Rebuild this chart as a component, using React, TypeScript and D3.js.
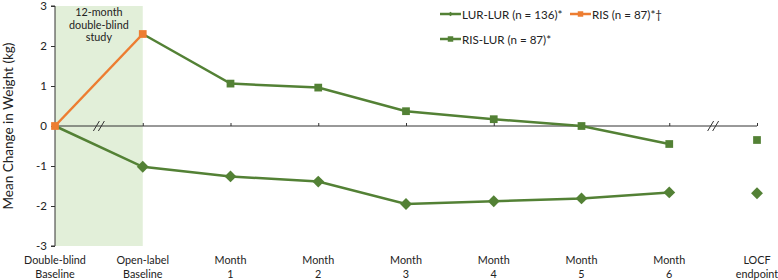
import React, { useEffect, useRef } from 'react';
import * as d3 from 'd3';

const categories = ['DB', 'OL', 'M1', 'M2', 'M3', 'M4', 'M5', 'M6', 'LOCF'];
const catLabels = [
  ['Double-blind', 'Baseline'], ['Open-label', 'Baseline'], ['Month', '1'], ['Month', '2'],
  ['Month', '3'], ['Month', '4'], ['Month', '5'], ['Month', '6'], ['LOCF', 'endpoint'],
];
const yTicks = [-3, -2, -1, 0, 1, 2, 3];

// LUR-LUR: DB baseline .. month 6 connected, LOCF separate
const lurLur = [0, -1.02, -1.26, -1.39, -1.95, -1.88, -1.81, -1.66];
const lurLurLocf = -1.68;
// RIS-LUR: open-label baseline .. month 6, LOCF separate
const risLur = [2.3, 1.06, 0.96, 0.37, 0.17, 0, -0.45];
const risLurLocf = -0.35;
// RIS during double-blind
const ris = [0, 2.3];

const C = { green: '#538135', orange: '#ed7d31', shade: '#e2efd9', axis: '#333', text: '#222' };
const FONT = 'Lato, "Open Sans", sans-serif';
const FS = { label: 10.8, tick: 11.5, legend: 11.6, title: 13.5 };

export default function App() {
  const ref = useRef<SVGSVGElement>(null);
  useEffect(() => {
    const svg = d3.select(ref.current);
    svg.selectAll('*').remove();
    const x = d3.scalePoint<string>().domain(categories).range([55, 757]);
    const y = d3.scaleLinear().domain([-3, 3]).range([246, 6]);
    const step = x.step();

    // shaded double-blind region
    svg.append('rect').attr('x', x('DB')!).attr('y', y(3)).attr('width', x('OL')! - x('DB')!)
      .attr('height', y(-3) - y(3)).attr('fill', C.shade);
    const shadeText = ['12-month', 'double-blind', 'study'];
    shadeText.forEach((t, i) => {
      svg.append('text').text(t).attr('x', (x('DB')! + x('OL')!) / 2).attr('y', 16 + i * 12.5)
        .attr('text-anchor', 'middle').attr('font-size', FS.label).attr('font-family', FONT).attr('fill', C.text);
    });

    // y axis
    const ya = svg.append('g').attr('transform', `translate(${x('DB')},0)`)
      .call(d3.axisLeft(y).tickValues(yTicks).tickSize(4).tickFormat(d => String(d)));
    ya.select('.domain').attr('stroke', C.axis).attr('d', `M-4,${y(3)}H0V${y(-3)}H-4`);
    ya.selectAll('line').attr('stroke', C.axis);
    ya.selectAll('text').attr('font-size', FS.tick).attr('font-family', FONT).attr('fill', C.text).attr('x', -8);

    // zero axis with upward ticks
    const xa = svg.append('g').attr('transform', `translate(0,${y(0)})`)
      .call(d3.axisTop(x).tickSize(3).tickFormat(() => ''));
    xa.select('.domain').attr('stroke', C.axis).attr('d', `M${x('DB')},0H${x('LOCF')}`);
    xa.selectAll('line').attr('stroke', C.axis);

    // break marks
    [x('DB')! + step / 2, x('M6')! + step / 2].forEach(bx => {
      [-2.5, 2.5].forEach(dx => {
        svg.append('line').attr('x1', bx + dx - 3).attr('y1', y(0) + 5).attr('x2', bx + dx + 3).attr('y2', y(0) - 5)
          .attr('stroke', C.axis).attr('stroke-width', 1);
      });
    });

    // x labels
    catLabels.forEach((lines, i) => {
      lines.forEach((t, j) => {
        svg.append('text').text(t).attr('x', x(categories[i])!).attr('y', 264 + j * 14)
          .attr('text-anchor', 'middle').attr('font-size', FS.label).attr('font-family', FONT).attr('fill', C.text);
      });
    });

    // y title
    svg.append('text').text('Mean Change in Weight (kg)')
      .attr('transform', `translate(13,${y(0)}) rotate(-90)`).attr('text-anchor', 'middle')
      .attr('font-size', FS.title).attr('font-family', FONT).attr('fill', C.text);

    const line = d3.line<[string, number]>().x(d => x(d[0])!).y(d => y(d[1]));
    const diamond = d3.symbol().type(d3.symbolDiamond2).size(90);
    const square = d3.symbol().type(d3.symbolSquare).size(60);

    // LUR-LUR
    const ll = lurLur.map((v, i) => [categories[i], v] as [string, number]);
    svg.append('path').datum(ll).attr('d', line).attr('fill', 'none').attr('stroke', C.green).attr('stroke-width', 2.5);
    [...ll.slice(1), ['LOCF', lurLurLocf] as [string, number]].forEach(d => {
      svg.append('path').attr('d', diamond()).attr('fill', C.green)
        .attr('transform', `translate(${x(d[0])},${y(d[1])})`);
    });

    // RIS-LUR
    const rl = risLur.map((v, i) => [categories[i + 1], v] as [string, number]);
    svg.append('path').datum(rl).attr('d', line).attr('fill', 'none').attr('stroke', C.green).attr('stroke-width', 2.5);
    [...rl.slice(1), ['LOCF', risLurLocf] as [string, number]].forEach(d => {
      svg.append('path').attr('d', square()).attr('fill', C.green)
        .attr('transform', `translate(${x(d[0])},${y(d[1])})`);
    });

    // RIS
    const rr = ris.map((v, i) => [categories[i], v] as [string, number]);
    svg.append('path').datum(rr).attr('d', line).attr('fill', 'none').attr('stroke', C.orange).attr('stroke-width', 2.5);
    rr.forEach(d => {
      svg.append('path').attr('d', square()).attr('fill', C.orange)
        .attr('transform', `translate(${x(d[0])},${y(d[1])})`);
    });

    // legend
    const legend = [
      { label: 'LUR-LUR (n = 136)*', color: C.green, sym: 'diamond', lx: 440, ly: 14 },
      { label: 'RIS (n = 87)*\u2020', color: C.orange, sym: 'square', lx: 570, ly: 14 },
      { label: 'RIS-LUR (n = 87)*', color: C.green, sym: 'square', lx: 440, ly: 39 },
    ];
    legend.forEach(l => {
      svg.append('line').attr('x1', l.lx).attr('x2', l.lx + 21).attr('y1', l.ly).attr('y2', l.ly)
        .attr('stroke', l.color).attr('stroke-width', 2.5);
      svg.append('path').attr('d', d3.symbol().type(l.sym === 'diamond' ? d3.symbolDiamond2 : d3.symbolSquare).size(l.sym === 'diamond' ? 14 : 30)())
        .attr('fill', l.color).attr('transform', `translate(${l.lx + 10.5},${l.ly})`);
      svg.append('text').text(l.label).attr('x', l.lx + 22).attr('y', l.ly + 4.5)
        .attr('font-size', FS.legend).attr('font-family', FONT).attr('fill', C.text);
    });
  }, []);
  return (
    <div style={{ position: 'absolute', left: 0, top: 0 }}>
      <svg ref={ref} width={778} height={280} style={{ display: 'block', background: '#fff' }} />
    </div>
  );
}
